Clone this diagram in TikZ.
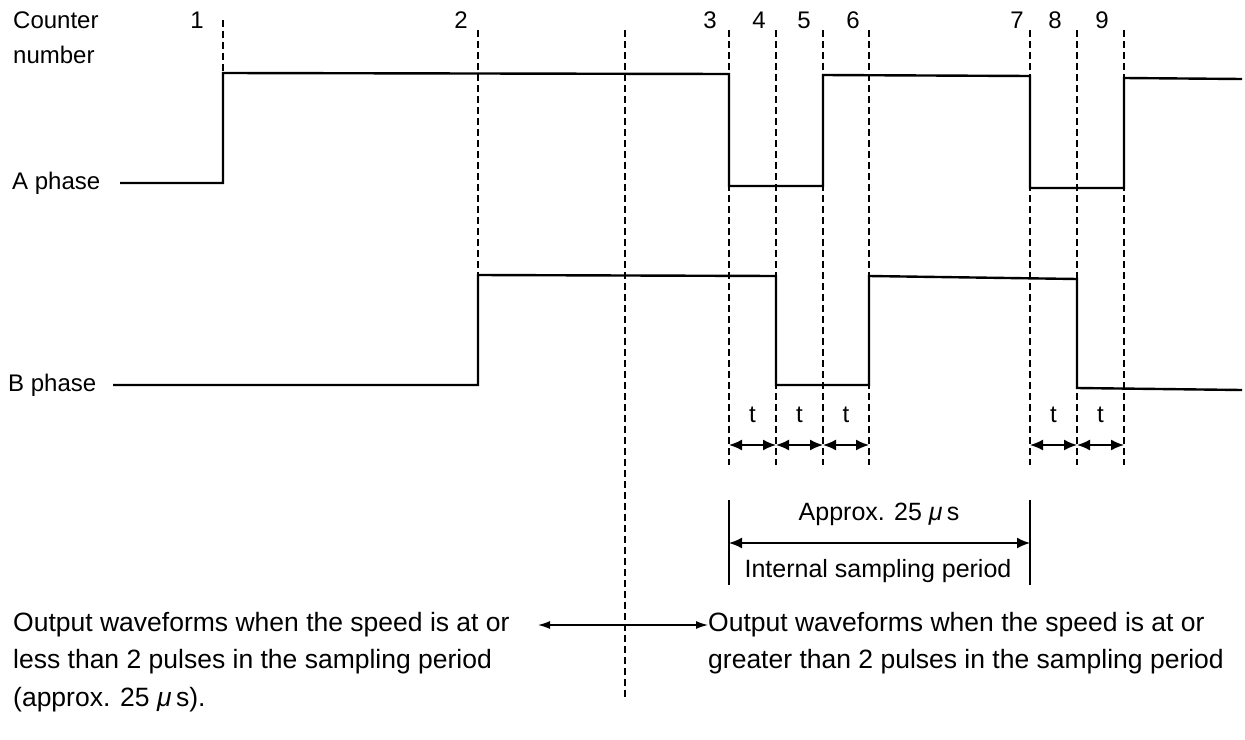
\documentclass[tikz,border=0pt]{standalone}
\usepackage{fontspec}
\setmainfont{Liberation Sans}
\usetikzlibrary{arrows.meta}
\newcommand{\mus}{\textit{μ}\,s}
\begin{document}
\begin{tikzpicture}[x=1pt,y=-1pt,
  wave/.style={line width=2.4pt, line join=miter},
  guide/.style={dash pattern=on 7pt off 4pt, line width=1.1pt},
  lbl/.style={font=\fontsize{24}{28}\selectfont, inner sep=0pt},
  txt/.style={font=\fontsize{26.5}{30}\selectfont, inner sep=0pt},
  dimarrow/.style={line width=1.6pt, {Latex[length=13pt,width=11pt]}-{Latex[length=13pt,width=11pt]}},
  bar/.style={line width=1.6pt}]
\useasboundingbox (0,0) rectangle (1245,739);
% guide coordinates
\foreach \n/\x/\yt/\yb in {g1/223/20/183, g2/478/30/385, gm/625/30/700, g3/729/30/465, g4/776/30/465, g5/823/30/465, g6/869/30/465, g7/1030/30/465, g8/1077/30/465, g9/1124/30/465}{
  \coordinate (\n t) at (\x,\yt);
  \coordinate (\n b) at (\x,\yb);
}
\foreach \n in {g1,g2,gm,g3,g4,g5,g6,g7,g8,g9}{
  \draw[guide] (\n t) -- (\n b);
}
% labels
\node[lbl, anchor=west] (cnt) at (13,20) {Counter};
\node[lbl, anchor=west] (num) at (13,55) {number};
\node[lbl, anchor=west] (ap) at (12,183) {A phase};
\node[lbl, anchor=west] (bp) at (8,385) {B phase};
\foreach \d/\x in {1/197,2/461,3/710,4/759,5/804,6/853,7/1017,8/1055,9/1102}{
  \node[lbl] (n\d) at (\x,20) {\d};
}
% waveforms
\draw[wave] (120,183) -- (223,183) -- (223,73) -- (729,74) -- (729,186) -- (823,186) -- (823,75) -- (1030,76) -- (1030,188) -- (1124,188) -- (1124,78) -- (1242,79);
\draw[wave] (113,385) -- (478,385) -- (478,275) -- (776,276) -- (776,385) -- (869,385) -- (869,276) -- (1077,279) -- (1077,388) -- (1242,390);
% t intervals
\foreach \a/\b in {g3/g4,g4/g5,g5/g6,g7/g8,g8/g9}{
  \draw[dimarrow] (\a b |- 0,445) -- (\b b |- 0,445) node[midway, lbl, yshift=30pt] {t};
}
% sampling period
\coordinate (sl1) at (729,500); \coordinate (sl2) at (729,585);
\coordinate (sr1) at (1030,500); \coordinate (sr2) at (1030,585);
\draw[bar] (sl1) -- (sl2);
\draw[bar] (sr1) -- (sr2);
\draw[dimarrow] (sl1 |- 0,543) -- (sr1 |- 0,543);
\node[txt, font=\fontsize{25}{30}\selectfont] (apx) at (879,514) {Approx. 25 \mus};
\node[txt, font=\fontsize{25}{30}\selectfont] (isp) at (878,571) {Internal sampling period};
% bottom texts
\node[txt, anchor=west] (lt) at (13,625) {Output waveforms when the speed is at or};
\node[txt, anchor=west] (lt2) at (13,662) {less than 2 pulses in the sampling period};
\node[txt, anchor=west] (lt3) at (13,700) {(approx. 25 \mus).};
\node[txt, anchor=west] (rt) at (708,625) {Output waveforms when the speed is at or};
\node[txt, anchor=west] (rt2) at (708,662) {greater than 2 pulses in the sampling period};
\coordinate (la) at (538,625);
\draw[line width=1.3pt, {Latex[length=12pt,width=8pt]}-{Latex[length=12pt,width=8pt]}] (la) -- (rt.west);
\end{tikzpicture}
\end{document}
